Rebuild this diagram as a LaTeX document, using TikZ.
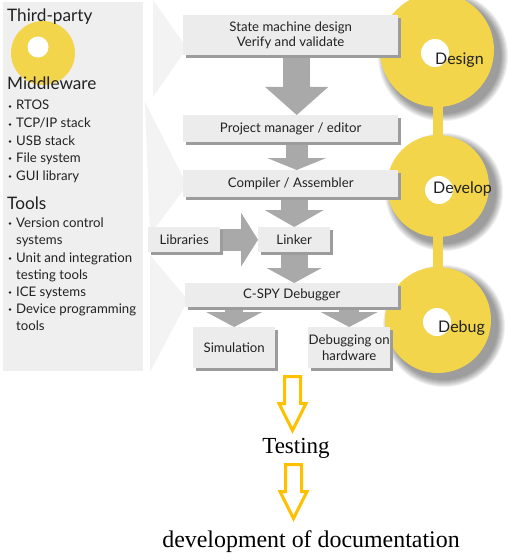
\documentclass[tikz,border=0pt]{standalone}
\usepackage{fontspec}
\setmainfont{Liberation Serif}
\newfontfamily\gill{Lato}
\usetikzlibrary{shadows,arrows.meta,calc}
\pgfdeclarelayer{bg}
\pgfdeclarelayer{arr}
\pgfsetlayers{bg,arr,main}
\definecolor{panel}{HTML}{EFEFEF}
\definecolor{chev}{HTML}{F3F3F3}
\definecolor{boxfill}{HTML}{ECECEC}
\definecolor{boxshadow}{HTML}{9C9C9C}
\definecolor{garrow}{HTML}{A9A9A9}
\definecolor{yel}{HTML}{F2D54A}
\definecolor{orangey}{HTML}{FFC000}
\definecolor{txt}{HTML}{222222}
\begin{document}
\begin{tikzpicture}[x=1pt,y=-1pt,
  stagebox/.style={fill=boxfill, inner sep=0pt, anchor=north west, align=center,
    text=txt, font=\gill\fontsize{13.2}{15.5}\selectfont,
    drop shadow={shadow xshift=3pt, shadow yshift=-3pt, fill=boxshadow, opacity=1}},
  blockarr/.style n args={3}{draw=garrow, line width=#1pt,
    -{Triangle[length=#2pt, width=#3pt, line width=0pt]}},
  head/.style={inner sep=0pt, anchor=base west, text=txt, font=\gill\fontsize{17.2}{19}\selectfont},
  item/.style={inner sep=0pt, anchor=base west, text=txt, font=\gill\fontsize{13.2}{15}\selectfont},
  circlabel/.style={inner sep=0pt, anchor=base west, text=txt, font=\gill\fontsize{16}{18}\selectfont},
  bottomtext/.style={inner sep=0pt, anchor=base, text=black, font=\fontsize{23}{26}\selectfont},
  pics/hollowdown/.style={code={
    \draw[orangey, line width=3pt, line join=miter]
      (-8,0) -- (8,0) -- (8,27) -- (13.5,27) -- (0,54) -- (-13.5,27) -- (-8,27) -- cycle;}},
  shadering/.style={fill=black, fill opacity=0.06}
]
\useasboundingbox (0,0) rectangle (508,559);

% background: panel, chevrons, circles
\begin{pgfonlayer}{bg}
  \fill[panel] (3,2) rectangle (143,371);
  \fill[chev] (153,0) -- (187,48) -- (153,97) -- cycle;
  \fill[chev] (145,102) -- (187,185) -- (150,235) -- cycle;
  \fill[chev] (150,255) -- (188,300) -- (150,372) -- cycle;
  % left decorative circle
  \fill[yel] (43,53) circle[radius=32pt];
  \fill[white] (38,47) circle[radius=10.5pt];
  % stage circle soft shadows
  \foreach \cx/\cy/\r in {443/56/57, 444/192/51, 444/326/53}
    \foreach \k in {0,...,7}
      \path[shadering] (\cx,\cy) circle[radius=\r pt + 8pt - \k pt];
  % stage circles
  \fill[yel] (437,50) circle[radius=57pt];
  \fill[yel] (438,186) circle[radius=51pt];
  \fill[yel] (438,320) circle[radius=53pt];
  \fill[yel] (433,100) rectangle (443,140);
  \fill[yel] (433,230) rectangle (443,272);
  \fill[white] (435,53) circle[radius=14pt];
  \fill[white] (439,190) circle[radius=14pt];
  \fill[white] (437,322) circle[radius=14pt];
\end{pgfonlayer}

\node[circlabel] (design) at (435,65) {Design};
\node[circlabel] (develop) at (433,193) {Develop};
\node[circlabel] (debug) at (438,332) {Debug};

% left panel text
\node[head] (tp) at (7,22) {Third-party};
\node[head] (mw) at (7,90) {Middleware};
\node[head] (tl) at (7,209) {Tools};
\foreach \yy in {110,128,145,162,180,227,262,296,313}
  \fill[txt] (10,\yy-3.5) circle[radius=1.4pt];
\node[item] (i1) at (16,110) {RTOS};
\node[item] (i2) at (16,128) {TCP/IP stack};
\node[item] (i3) at (16,145) {USB stack};
\node[item] (i4) at (16,162) {File system};
\node[item] (i5) at (16,180) {GUI library};
\node[item] (i6) at (16,227) {Version control};
\node[item] (i7) at (16,244) {systems};
\node[item] (i8) at (16,262) {Unit and integration};
\node[item] (i9) at (16,279) {testing tools};
\node[item] (i10) at (16,296) {ICE systems};
\node[item] (i11) at (16,313) {Device programming};
\node[item] (i12) at (16,330) {tools};

% stage boxes
\node[stagebox, minimum width=215pt, minimum height=40pt] (b1) at (183,15) {State machine design\\Verify and validate};
\node[stagebox, minimum width=215pt, minimum height=27pt] (b2) at (183,115) {Project manager / editor};
\node[stagebox, minimum width=215pt, minimum height=27pt] (b3) at (183,170) {Compiler / Assembler};
\node[stagebox, minimum width=72pt, minimum height=25pt] (lib) at (148,227) {Libraries};
\node[stagebox, minimum width=72pt, minimum height=25pt] (link) at (258,227) {Linker};
\node[stagebox, minimum width=213pt, minimum height=24pt] (cspy) at (185,283) {C-SPY Debugger};
\node[stagebox, minimum width=82pt, minimum height=41pt] (sim) at (193,327) {Simulation};
\node[stagebox, minimum width=82pt, minimum height=41pt] (hw) at (308,327) {Debugging on\\hardware};

% grey block arrows
\begin{pgfonlayer}{arr}
  \draw[blockarr={27}{28}{63}] ([xshift=6pt]b1.south) -- ([xshift=6pt]b2.north);
  \draw[blockarr={22}{12}{59}] ([xshift=6pt]b2.south) -- ([xshift=6pt]b3.north);
  \draw[blockarr={27}{17}{59}] (b3.south -| link.north) -- (link.north);
  \draw[blockarr={27}{15}{55}] (link.south) -- (link.south |- cspy.north);
  \draw[blockarr={18}{15}{56}] (cspy.south -| sim.north) -- (sim.north);
  \draw[blockarr={20}{15}{57}] (cspy.south -| hw.north) -- (hw.north);
  \draw[blockarr={22}{17}{54}] (lib.east) -- (link.west);
\end{pgfonlayer}

% bottom part
\pic (ya) at (292.5,376.5) {hollowdown};
\node[bottomtext] (testing) at (296,453) {Testing};
\pic (yb) at (293.5,464.5) {hollowdown};
\node[bottomtext, font=\fontsize{23.9}{27}\selectfont] (doc) at (311,547) {development of documentation};
\end{tikzpicture}
\end{document}
